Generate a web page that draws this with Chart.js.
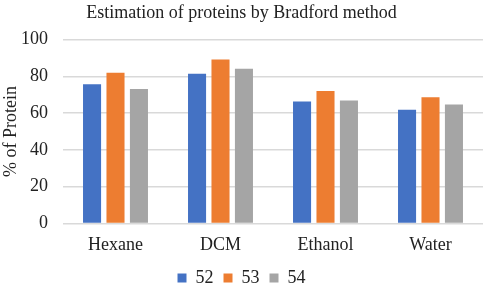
<!DOCTYPE html>
<html><head><meta charset="utf-8">
<script src="https://cdn.jsdelivr.net/npm/chart.js@4"></script>
<style>html,body{margin:0;padding:0;background:#fff}#wrap{width:484px;height:287px}</style>
</head><body><div id="wrap"><canvas id="c" width="484" height="287"></canvas></div>
<script>
const categories = ["Hexane", "DCM", "Ethanol", "Water"];
const seriesNames = ["52", "53", "54"];
const s52 = [75.7, 81.4, 66.3, 61.8];
const s53 = [82.0, 89.2, 72.1, 68.6];
const s54 = [73.1, 84.2, 66.9, 64.7];
const yTicks = [0, 20, 40, 60, 80, 100];
const colors = ["#4472C4", "#ED7D31", "#A5A5A5"];
const font = "'Liberation Serif', 'Times New Roman', serif";
new Chart(document.getElementById('c'), {
  type: 'bar',
  data: {
    labels: categories,
    datasets: [s52, s53, s54].map((d, i) => ({
      label: seriesNames[i], data: d, backgroundColor: colors[i],
      categoryPercentage: 0.67, barPercentage: 0.77
    }))
  },
  options: {
    responsive: false, animation: false,
    layout: { padding: { left: 0, right: 1, top: 0, bottom: -10 } },
    plugins: {
      title: { display: true, text: "Estimation of proteins by Bradford method",
        color: '#222', font: { family: font, size: 18, weight: 'normal' }, padding: { top: 2, bottom: 16 } },
      legend: { position: 'bottom', labels: { boxWidth: 9, boxHeight: 9, color: '#222', padding: 10,
        font: { family: font, size: 18 } } },
      tooltip: { enabled: false }
    },
    scales: {
      x: { grid: { display: false }, border: { display: false },
        ticks: { color: '#222', font: { family: font, size: 18 }, padding: 3 } },
      y: { min: 0, max: 100, afterBuildTicks: ax => { ax.ticks = yTicks.map(v => ({ value: v })); },
        afterFit: ax => { ax.width = 63; },
        grid: { color: '#d9d9d9', lineWidth: 1.5, drawTicks: false }, border: { display: false },
        ticks: { color: '#222', font: { family: font, size: 18 }, padding: 15 },
        title: { display: true, text: "% of Protein", color: '#222', font: { family: font, size: 18 }, padding: 0 } }
    }
  }
});
</script></body></html>
